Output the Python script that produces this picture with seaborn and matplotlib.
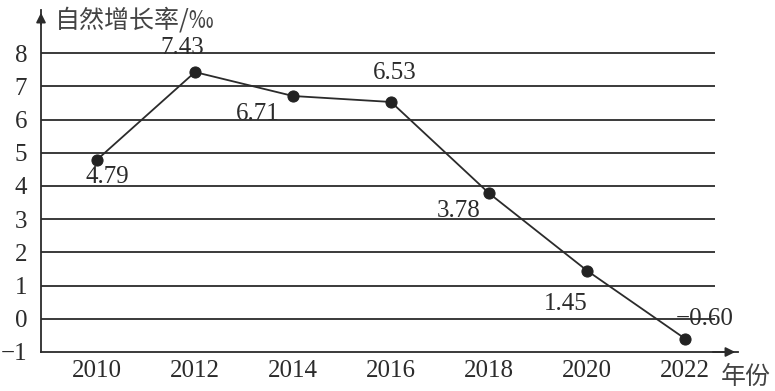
import pandas as pd
import matplotlib.pyplot as plt
import seaborn as sns

# chart data
years = [2010, 2012, 2014, 2016, 2018, 2020, 2022]
rates = [4.79, 7.43, 6.71, 6.53, 3.78, 1.45, -0.60]
labels = ["4.79", "7.43", "6.71", "6.53", "3.78", "1.45", "\u22120.60"]
yticks = [-1, 0, 1, 2, 3, 4, 5, 6, 7, 8]

df = pd.DataFrame({"year": years, "rate": rates})

sns.set_theme(style="white")
serif = ["Liberation Serif", "DejaVu Serif"]
cjk = ["Noto Sans CJK SC", "DejaVu Sans"]
plt.rcParams["font.family"] = serif

fig = plt.figure(figsize=(7.75, 3.91), dpi=100)
ax = fig.add_axes([41 / 775, 39 / 391, (738 - 41) / 775, (352 - 10) / 391])

ink = "#2b2b2b"

ax.set_xlim(2008.857, 2023.08)
ax.set_ylim(-1, 9.3)

# horizontal grid lines, stopping before the arrow
for v in yticks[1:]:
    ax.hlines(v, 2008.857, 2022.61, color=ink, lw=1.3, zorder=1)

sns.lineplot(data=df, x="year", y="rate", ax=ax, color=ink, lw=1.3,
             marker="o", markersize=8, markerfacecolor="#222222",
             markeredgecolor="#222222", zorder=3)

# value labels (pixel offsets from each point)
offsets = [(10, -17), (-13, 24), (-35, -18), (4, 29), (-30, -18), (-21, -33), (20, 20)]
for x, y, t, (dx, dy) in zip(years, rates, labels, offsets):
    ax.annotate(t, (x, y), xytext=(dx, dy), textcoords="offset pixels",
                ha="center", va="center", fontsize=18, color=ink,
                family=serif, zorder=4)

# axes styling
for s in ["top", "right"]:
    ax.spines[s].set_visible(False)
for s in ["left", "bottom"]:
    ax.spines[s].set_color(ink)
    ax.spines[s].set_linewidth(1.3)

ax.set_xticks(years)
ax.set_xticklabels([str(y) for y in years], fontsize=18, color=ink)
ax.set_yticks(yticks)
ax.set_yticklabels([str(v).replace("-", "\u2212") for v in yticks], fontsize=18, color=ink)
ax.tick_params(axis="x", direction="in", length=10, width=1.2, color=ink, pad=6)
ax.tick_params(axis="y", length=0, pad=10)
ax.set_xlabel("")
ax.set_ylabel("")

# arrows on the axes
ax.annotate("", xy=(1.0, 0), xycoords="axes fraction", xytext=(0.96, 0),
            arrowprops=dict(arrowstyle="-|>", color=ink, lw=1.3, mutation_scale=14))
ax.annotate("", xy=(0, 1.0), xycoords="axes fraction", xytext=(0, 0.95),
            arrowprops=dict(arrowstyle="-|>", color=ink, lw=1.3, mutation_scale=14))

fig.text(55 / 775, 1 - 20 / 391, "自然增长率/‰", fontsize=18, color="#444444",
         family=cjk, ha="left", va="center")
fig.text(721 / 775, 1 - 377 / 391, "年份", fontsize=18, color="#444444",
         family=cjk, ha="left", va="center")

fig.savefig("out.png", dpi=100)
